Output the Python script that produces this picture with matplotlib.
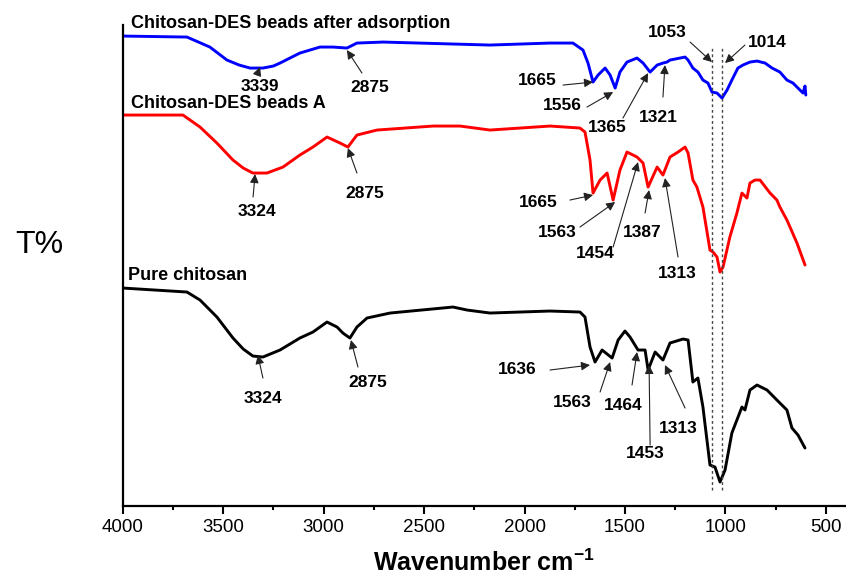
import numpy as np
import matplotlib
matplotlib.use("Agg")
from matplotlib import pyplot as plt
from matplotlib.ticker import MultipleLocator

plt.rcParams['font.family'] = ['Liberation Sans', 'DejaVu Sans']
plt.rcParams['mathtext.fontset'] = 'custom'
plt.rcParams['mathtext.bf'] = 'Liberation Sans:bold'
plt.rcParams['mathtext.rm'] = 'Liberation Sans:bold'

# spectra (wavenumber, transmittance in arbitrary units with offset)
wn_after = [4000, 3680, 3566, 3481, 3420, 3366, 3302, 3250, 3217, 3118, 3018, 2953, 2884, 2834, 2704, 2172, 1873,
            1759, 1709, 1684, 1659, 1634, 1599, 1574, 1549, 1525, 1490, 1440, 1410, 1375, 1340, 1311,
            1291, 1276, 1226, 1201, 1186, 1162, 1137, 1112, 1087, 1067, 1042, 1017, 992, 968, 938,
            913, 878, 843, 803, 768, 729, 694, 664, 639, 614, 604, 600]
t_after = [470, 469, 459, 446, 441, 438, 438, 440, 443, 453, 459, 459, 458, 463, 464, 461, 463,
           463, 456, 443, 424, 431, 438, 431, 418, 434, 444, 448, 443, 434, 441, 443,
           444, 446, 448, 449, 446, 438, 434, 426, 423, 414, 413, 408, 416, 426, 438,
           441, 444, 445, 443, 438, 434, 426, 423, 418, 413, 420, 411]

wn_beads = [4000, 3700, 3615, 3531, 3451, 3400, 3352, 3282, 3202, 3118, 3053, 2983, 2918, 2879, 2834, 2734,
            2455, 2321, 2172, 1873, 1724, 1699, 1674, 1659, 1624, 1589, 1559, 1525, 1490, 1440, 1410,
            1385, 1340, 1311, 1276, 1236, 1201, 1186, 1162, 1142, 1112, 1077, 1062, 1042, 1027, 1012,
            978, 943, 918, 893, 878, 853, 828, 778, 744, 729, 694, 644, 604]
t_beads = [391, 391, 379, 363, 346, 338, 333, 333, 339, 351, 359, 369, 363, 359, 371, 376,
           380, 380, 376, 380, 378, 374, 346, 313, 326, 333, 306, 336, 354, 349, 343,
           319, 339, 331, 349, 354, 359, 353, 326, 319, 299, 256, 254, 249, 234, 239,
           269, 293, 313, 308, 323, 326, 326, 313, 306, 299, 286, 263, 241]

wn_pure = [4000, 3680, 3615, 3531, 3451, 3400, 3352, 3302, 3217, 3118, 3053, 2983, 2933, 2904, 2869, 2834,
           2784, 2669, 2356, 2286, 2172, 1873, 1724, 1699, 1674, 1649, 1614, 1564, 1534, 1500, 1475,
           1435, 1400, 1385, 1350, 1311, 1276, 1211, 1186, 1162, 1137, 1112, 1077, 1052, 1027, 1002,
           968, 918, 903, 878, 843, 793, 744, 694, 669, 639, 604]
t_pure = [218, 214, 206, 189, 168, 157, 150, 149, 156, 168, 174, 184, 179, 173, 168, 179,
          188, 193, 199, 196, 193, 195, 194, 189, 159, 144, 156, 148, 166, 175, 169,
          156, 156, 136, 154, 146, 163, 167, 166, 124, 128, 99, 41, 39, 24, 36,
          73, 99, 96, 116, 121, 116, 106, 96, 78, 71, 58]

names = ['Chitosan-DES beads after adsorption', 'Chitosan-DES beads A', 'Pure chitosan']
name_pos = [(3959, 483), (3959, 403), (3974, 231)]
colors = ['#0000ff', '#ff0000', '#000000']

# peak labels: text, text position, arrow tail, arrow tip
peaks = [
    ('3339', (3316, 420), (3331, 431), (3316, 439)),
    ('2875', (2769, 419), (2809, 433), (2884, 456)),
    ('1665', (1937, 426), (1808, 421), (1659, 424)),
    ('1556', (1813, 401), (1689, 399), (1559, 414)),
    ('1365', (1589, 379), (1510, 388), (1385, 433)),
    ('1321', (1336, 389), (1311, 409), (1301, 441)),
    ('1053', (1291, 474), (1176, 464), (1067, 444)),
    ('1014', (793, 464), (903, 461), (1002, 443)),
    ('3324', (3331, 295), (3351, 309), (3341, 332)),
    ('2875', (2794, 313), (2834, 333), (2879, 358)),
    ('1665', (1933, 304), (1774, 306), (1659, 311)),
    ('1563', (1838, 274), (1724, 279), (1549, 304)),
    ('1454', (1649, 253), (1559, 259), (1435, 344)),
    ('1387', (1415, 274), (1400, 293), (1380, 316)),
    ('1313', (1241, 233), (1236, 249), (1301, 328)),
    ('3324', (3302, 108), (3302, 128), (3327, 151)),
    ('2875', (2779, 124), (2829, 139), (2864, 166)),
    ('1636', (2037, 137), (1873, 136), (1674, 141)),
    ('1563', (1764, 104), (1624, 114), (1574, 144)),
    ('1464', (1510, 101), (1465, 121), (1440, 154)),
    ('1453', (1400, 53), (1375, 61), (1380, 141)),
    ('1313', (1236, 78), (1201, 98), (1301, 141)),
]

guide_lines = [1067, 1017]

fig = plt.figure(figsize=(8.46, 5.76), dpi=100)
ax = fig.add_axes([0.145, 0.1215, 0.855, 0.835])

for wn, t, c in zip([wn_after, wn_beads, wn_pure], [t_after, t_beads, t_pure], colors):
    ax.plot(wn, t, color=c, lw=2.1, solid_joinstyle='round', solid_capstyle='round')

for name, pos in zip(names, name_pos):
    ax.text(pos[0], pos[1], name, fontsize=13, fontweight='bold', ha='left', va='center')

for lab, tp, tail, tip in peaks:
    ax.annotate('', xy=tip, xytext=tail,
                arrowprops=dict(arrowstyle='-|>', color='#222222', lw=0.8,
                                mutation_scale=13, shrinkA=0, shrinkB=0))
    ax.text(tp[0], tp[1], lab, fontsize=12.5, fontweight='bold', ha='center', va='center')

for g in guide_lines:
    ax.plot([g, g], [16, 458], color='#444444', lw=1, ls=(0, (2, 2)))

ax.set_xlim(4000, 400)
ax.set_ylim(0, 481)
ax.xaxis.set_major_locator(MultipleLocator(500))
ax.xaxis.set_minor_locator(MultipleLocator(250))
ax.tick_params(axis='x', which='major', length=6, width=1.5, labelsize=13.5, direction='out')
ax.tick_params(axis='x', which='minor', length=3, width=1.5, direction='out')
ax.set_yticks([])
for s in ['top', 'right']:
    ax.spines[s].set_visible(False)
ax.spines['left'].set_linewidth(1.6)
ax.spines['bottom'].set_linewidth(1.6)

ax.set_xlabel('Wavenumber cm$^{\\mathbf{-1}}$', fontsize=18, fontweight='bold', labelpad=10)
fig.text(0.046, 0.575, 'T%', fontsize=23, ha='center', va='center')

fig.savefig('out.png', dpi=100)
